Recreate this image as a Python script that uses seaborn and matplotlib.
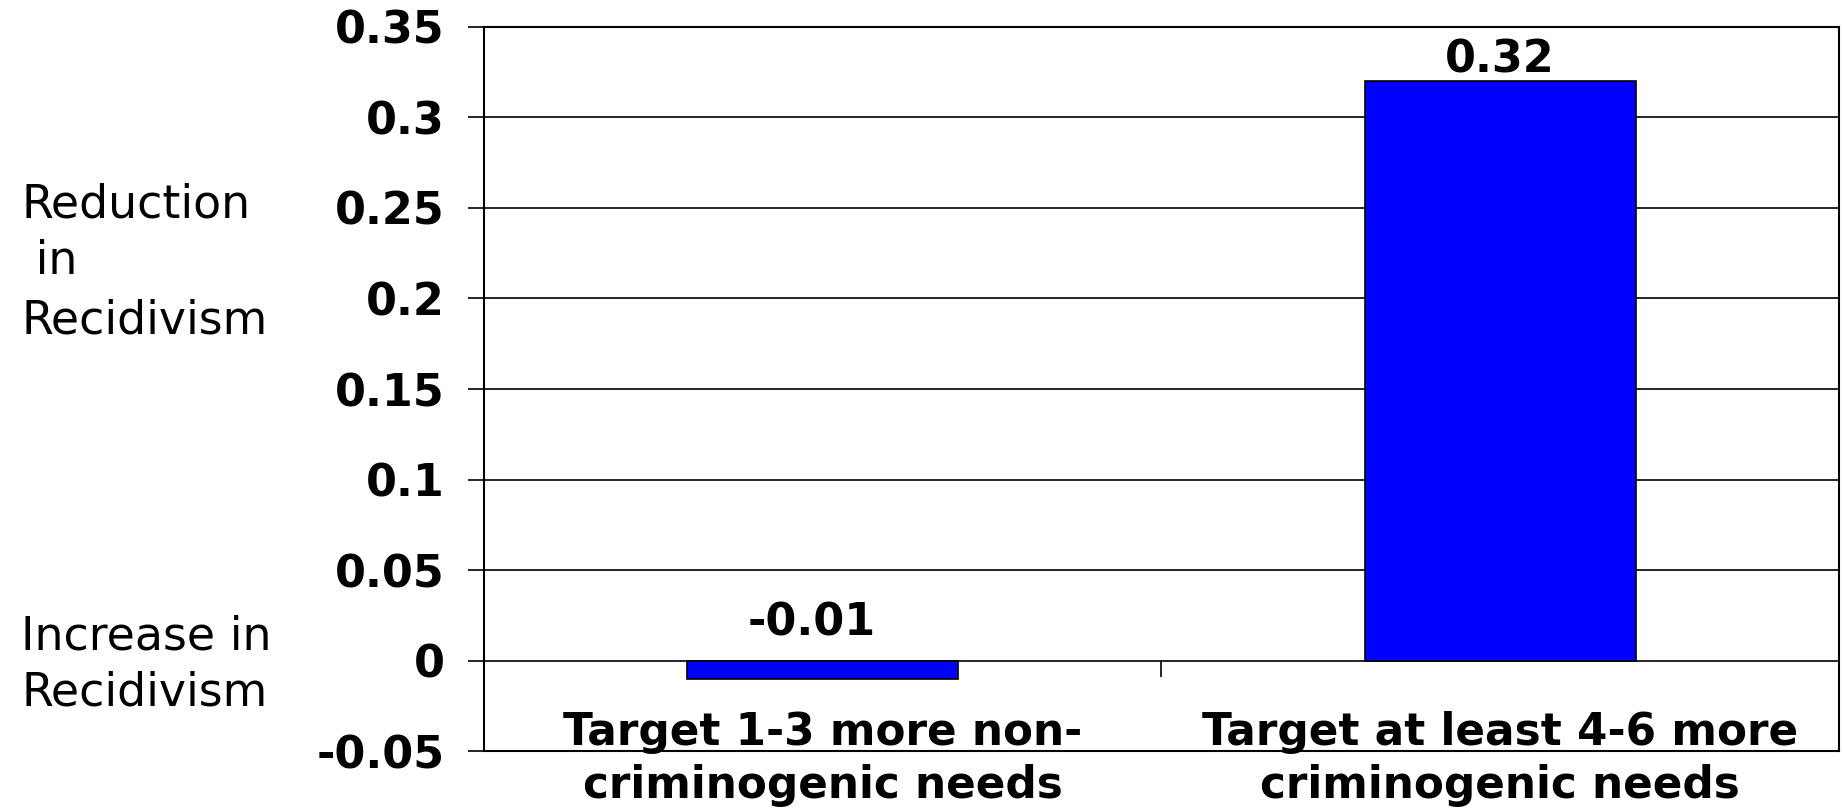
import matplotlib

matplotlib.use("Agg")
import matplotlib.pyplot as plt
import pandas as pd
import seaborn as sns

# Chart data
categories = [
    "Target 1-3 more non-\ncriminogenic needs",
    "Target at least 4-6 more\ncriminogenic needs",
]
values = [-0.01, 0.32]
y_ticks = [-0.05, 0.0, 0.05, 0.1, 0.15, 0.2, 0.25, 0.3, 0.35]
y_tick_labels = ["-0.05", "0", "0.05", "0.1", "0.15", "0.2", "0.25", "0.3", "0.35"]
value_labels = ["-0.01", "0.32"]

df = pd.DataFrame({"category": categories, "value": values})

sns.set_style("white")
plt.rcParams["font.family"] = ["DejaVu Sans"]
plt.rcParams.update(
    {
        "text.color": "black",
        "xtick.color": "black",
        "ytick.color": "black",
        "axes.labelcolor": "black",
    }
)

fig = plt.figure(figsize=(18.43, 8.10), dpi=100)
ax = fig.add_axes([0.2626, 0.0728, 0.7352, 0.8939])

sns.barplot(
    data=df,
    x="category",
    y="value",
    color="#0000FF",
    saturation=1,
    edgecolor="black",
    linewidth=1.2,
    width=0.4,
    ax=ax,
)

# Axis limits and ticks
ax.set_ylim(y_ticks[0], y_ticks[-1])
ax.set_xlim(-0.5, len(categories) - 0.5)
ax.set_yticks(y_ticks)
ax.set_yticklabels(y_tick_labels, fontsize=32, fontweight="bold")
ax.tick_params(axis="y", length=11.5, width=1.2, direction="out", pad=17, left=True)
ax.set_xticks(range(len(categories)))
ax.set_xticklabels(categories, fontsize=31.5, fontweight="bold")
for lbl in ax.get_xticklabels():
    lbl.set_linespacing(1.3)
ax.tick_params(axis="x", length=0, pad=-29)
ax.set_xlabel("")
ax.set_ylabel("")

# Horizontal gridlines
ax.yaxis.grid(True, color="black", linewidth=1.2)
ax.set_axisbelow(True)
for spine in ax.spines.values():
    spine.set_visible(True)
    spine.set_color("black")
    spine.set_linewidth(1.5)

# Category separator tick on the zero line
ymin, ymax = ax.get_ylim()
sec = ax.secondary_xaxis((0 - ymin) / (ymax - ymin))
sec.set_xticks([0.5])
sec.tick_params(length=11.5, width=1.2, direction="out", labelbottom=False)
sec.spines["bottom"].set_visible(False)

# Value labels
for i, (v, txt) in enumerate(zip(values, value_labels)):
    ax.annotate(
        txt,
        xy=(i, max(v, 0)),
        xytext=(0 if v >= 0 else -8, 6 if v >= 0 else 18),
        textcoords="offset points",
        ha="center",
        va="baseline",
        fontsize=32,
        fontweight="bold",
    )

# Side annotations
upper_lines = ["Reduction", " in", "Recidivism"]
upper_base = [217, 274, 333]
lower_lines = ["Increase in", "Recidivism"]
lower_base = [649, 705]
for line, yb in zip(upper_lines + lower_lines, upper_base + lower_base):
    fig.text(21 / 1843, 1 - yb / 810, line, fontsize=33, ha="left", va="baseline")

fig.savefig("out.png", dpi=100)
